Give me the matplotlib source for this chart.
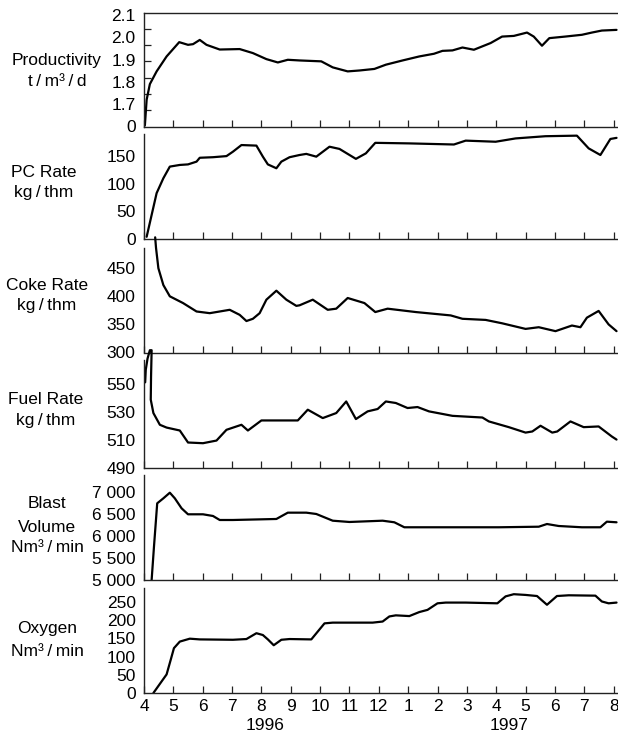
import matplotlib
matplotlib.use("Agg")
import matplotlib.pyplot as plt
import matplotlib.transforms as mtransforms

plt.rcParams['font.family'] = ['Liberation Sans', 'DejaVu Sans']

# Month axis: 4 = April 1996 ... 20 = August 1997
month_ticks = list(range(4, 21))
month_labels = ["4", "5", "6", "7", "8", "9", "10", "11", "12",
                "1", "2", "3", "4", "5", "6", "7", "8"]
year_labels = ["1996", "1997"]
year_pos = [8.11, 16.43]

# Productivity, t/m3/d
prod_x = [4.03, 4.09, 4.2, 4.43, 4.77, 5.2, 5.5, 5.67, 5.9, 6.13, 6.58, 7.26, 7.71,
          8.17, 8.56, 8.9, 9.3, 10.04, 10.43, 10.94, 11.34, 11.85, 12.24, 12.81,
          13.38, 13.88, 14.17, 14.51, 14.85, 15.24, 15.81, 16.2, 16.6, 17.05,
          17.28, 17.56, 17.81, 18.35, 18.92, 19.26, 19.6, 20.1]
prod_y = [1.605, 1.72, 1.79, 1.847, 1.914, 1.978, 1.966, 1.969, 1.988, 1.966, 1.945,
          1.947, 1.929, 1.902, 1.887, 1.899, 1.896, 1.892, 1.865, 1.847, 1.851,
          1.858, 1.877, 1.896, 1.914, 1.926, 1.939, 1.941, 1.954, 1.944, 1.974,
          2.003, 2.006, 2.021, 2.003, 1.962, 1.996, 2.003, 2.011, 2.021, 2.03, 2.033]

# PC rate, kg/thm
pc_x = [4.09, 4.43, 4.66, 4.88, 5.22, 5.5, 5.79, 5.9, 6.35, 6.81, 7.03, 7.32, 7.83,
        8.05, 8.22, 8.51, 8.68, 8.96, 9.3, 9.53, 9.87, 10.32, 10.66, 11.22, 11.56,
        11.88, 13.04, 14.56, 14.96, 15.98, 16.66, 17.68, 18.75, 19.15, 19.55,
        19.89, 20.1]
pc_y = [4, 83, 110, 131, 134, 135, 140, 147, 148, 150, 158, 170, 169, 149, 135,
        128, 140, 148, 152, 154, 149, 167, 163, 145, 155, 174, 173, 171, 178, 176,
        182, 186, 187, 164, 152, 181, 183]

# Coke rate, kg/thm
coke_x = [4.38, 4.41, 4.49, 4.66, 4.88, 5.33, 5.79, 6.24, 6.92, 7.26, 7.49, 7.71,
          7.94, 8.17, 8.51, 8.85, 9.19, 9.3, 9.75, 10.26, 10.55, 10.94, 11.51,
          11.88, 12.3, 13.26, 14.45, 14.85, 15.64, 16.2, 17.0, 17.45, 18.02,
          18.58, 18.87, 19.09, 19.49, 19.83, 20.1]
coke_y = [505, 486, 450, 420, 400, 388, 373, 370, 376, 367, 356, 360, 370, 394, 410,
          394, 383, 384, 394, 376, 378, 397, 388, 372, 378, 372, 366, 360, 358, 352,
          342, 345, 338, 348, 345, 362, 374, 350, 338]

# Fuel rate, kg/thm
fuel_x = [4.04, 4.06, 4.12, 4.2, 4.26, 4.24, 4.23, 4.32, 4.54, 4.77, 5.22, 5.5,
          6.01, 6.47, 6.81, 7.32, 7.54, 8.0, 9.24, 9.58, 10.09, 10.55, 10.89,
          11.22, 11.62, 11.96, 12.24, 12.58, 12.98, 13.32, 13.71, 14.51, 15.53,
          15.75, 16.43, 17.0, 17.23, 17.51, 17.91, 18.08, 18.53, 18.98, 19.49,
          19.94, 20.1]
fuel_y = [551, 560, 568, 574, 574, 555, 538.6, 529, 520.6, 518.6, 516.5, 507.9,
          507.4, 509.3, 517, 520.6, 516.5, 523.7, 523.7, 531.4, 525.4, 529, 537.3,
          524.7, 530.2, 531.9, 537.3, 536.2, 532.6, 533.3, 530.2, 527, 525.8, 523,
          518.9, 515, 515.8, 519.9, 515, 515.8, 523, 518.9, 519.4, 512.2, 510]

# Blast volume, Nm3/min
blast_x = [4.26, 4.34, 4.45, 4.66, 4.88, 5.05, 5.28, 5.5, 6.01, 6.35, 6.58, 7.03,
           8.51, 8.9, 9.53, 9.87, 10.43, 11.0, 12.13, 12.53, 12.87, 16.09, 17.45,
           17.73, 18.13, 18.92, 19.55, 19.77, 20.1]
blast_y = [5000, 5755, 6737, 6850, 6977, 6850, 6624, 6488, 6488, 6450, 6359, 6359,
           6382, 6525, 6525, 6495, 6343, 6314, 6343, 6307, 6194, 6194, 6207, 6268,
           6223, 6194, 6194, 6321, 6307]

# Oxygen, Nm3/min
oxy_x = [4.32, 4.77, 4.91, 5.02, 5.22, 5.56, 5.9, 7.03, 7.49, 7.83, 8.05, 8.22,
         8.42, 8.68, 8.96, 9.7, 10.15, 10.43, 11.79, 12.13, 12.36, 12.58, 13.04,
         13.38, 13.66, 14.0, 14.28, 14.96, 16.04, 16.32, 16.6, 17.0, 17.39, 17.73,
         18.07, 18.47, 19.38, 19.6, 19.83, 20.1]
oxy_y = [0, 51, 91, 123, 141, 149, 147, 146, 148, 164, 159, 147, 131, 146, 148, 147,
         191, 193, 193, 196, 210, 213, 211, 222, 228, 246, 248, 248, 246, 265, 271,
         269, 266, 242, 266, 268, 267, 251, 246, 248]

# Y-axis ticks and labels per panel
prod_ticks = [1.6, 1.7, 1.8, 1.9, 2.0, 2.1]
prod_labels = ["0", "1.7", "1.8", "1.9", "2.0", "2.1"]
pc_ticks = [0, 50, 100, 150]
coke_ticks = [300, 350, 400, 450]
fuel_ticks = [490, 510, 530, 550]
blast_ticks = [5000, 5500, 6000, 6500, 7000]
blast_labels = ["5 000", "5 500", "6 000", "6 500", "7 000"]
oxy_ticks = [0, 50, 100, 150, 200, 250]

ts = "\u2009"
titles = [["Productivity", f"t{ts}/{ts}m\u00b3{ts}/{ts}d"],
          ["PC Rate", f"kg{ts}/{ts}thm"],
          ["Coke Rate", f"kg{ts}/{ts}thm"],
          ["Fuel Rate", f"kg{ts}/{ts}thm"],
          ["Blast", "Volume", f"Nm\u00b3{ts}/{ts}min"],
          ["Oxygen", f"Nm\u00b3{ts}/{ts}min"]]

W, H = 618, 736
fig = plt.figure(figsize=(W / 100, H / 100), dpi=100)

x_left, x_right = 144, 618
px_per_month = 29.35
xmax = 4 + (x_right - x_left) / px_per_month

# (top px, bottom px, ylim, ticks, labels, x, y, unclipped)
panels = [
    (12.7, 126.5, (1.6, 2.11), prod_ticks, prod_labels, prod_x, prod_y, False),
    (134, 239, (0, 190), pc_ticks, [str(t) for t in pc_ticks], pc_x, pc_y, False),
    (248, 352.5, (300, 486), coke_ticks, [str(t) for t in coke_ticks], coke_x, coke_y, True),
    (360, 467.5, (490, 567), fuel_ticks, [str(t) for t in fuel_ticks], fuel_x, fuel_y, True),
    (475, 580, (5000, 7378), blast_ticks, blast_labels, blast_x, blast_y, False),
    (588, 693, (0, 288), oxy_ticks, [str(t) for t in oxy_ticks], oxy_x, oxy_y, False),
]

label_fs = 12.5
axes = []
for i, (top, bot, ylim, ticks, labels, xs, ys, unclip) in enumerate(panels):
    ax = fig.add_axes([x_left / W, 1 - bot / H, (x_right - x_left) / W, (bot - top) / H])
    axes.append(ax)
    ax.plot(xs, ys, color="black", lw=1.6, solid_joinstyle="round",
            solid_capstyle="round", clip_on=not unclip)
    ax.set_xlim(4, xmax)
    ax.set_ylim(*ylim)
    ax.set_yticks(ticks)
    ax.set_yticklabels(labels)
    ax.set_xticks(month_ticks)
    ax.spines["right"].set_visible(False)
    ax.spines["top"].set_visible(i == 0)
    for s in ["left", "bottom", "top"]:
        ax.spines[s].set_linewidth(1.0)
        ax.spines[s].set_color("#222222")
    ax.tick_params(axis="x", direction="in", length=5, width=0.9, color="#222222",
                   labelsize=label_fs, pad=4, labelbottom=(i == len(panels) - 1))
    ax.tick_params(axis="y", direction="in", length=0, labelsize=label_fs, pad=6)
    if i == 0:
        ax.set_yticks([1.6 + k * 0.51 / 7 for k in range(1, 7)], minor=True)
        ax.tick_params(axis="y", which="minor", direction="in", length=5, width=0.9,
                       color="#222222")
    for lab in ax.get_yticklabels() + ax.get_xticklabels():
        lab.set_fontsize(label_fs)

axes[-1].set_xticklabels(month_labels)

# Panel titles at the left
title_pos = [
    (57, [61, 82]),
    (44, [172.7, 193]),
    (47, [285, 305.7]),
    (45.5, [400, 421]),
    (47, [503, 527, 548]),
    (47, [629, 651]),
]
for lines, (cx, ys) in zip(titles, title_pos):
    for txt, cy in zip(lines, ys):
        fig.text(cx / W, 1 - cy / H, txt, ha="center", va="center", fontsize=label_fs)

# Year labels under the month axis
trans = mtransforms.blended_transform_factory(axes[-1].transData, fig.transFigure)
for yr, xp in zip(year_labels, year_pos):
    axes[-1].text(xp, 1 - 726 / H, yr, transform=trans, ha="center", va="center",
                  fontsize=label_fs)

fig.savefig("out.png", dpi=100)
